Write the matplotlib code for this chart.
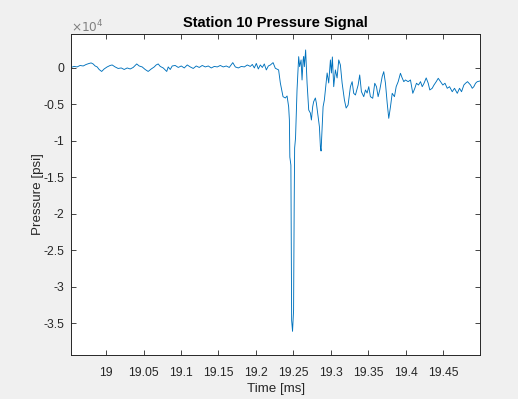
import matplotlib
matplotlib.use("Agg")
import matplotlib.pyplot as plt
from matplotlib.ticker import FuncFormatter, MultipleLocator

plt.rcParams["font.family"] = ["Liberation Sans", "DejaVu Sans"]

# station 10 gauge trace, time in ms, pressure in psi
time_ms = [
    18.9532, 18.9572, 18.9612, 18.9652, 18.9693, 18.9733, 18.9773, 18.9799, 18.9826, 18.9853,
    18.9880, 18.9906, 18.9940, 18.9973, 19.0013, 19.0053, 19.0080, 19.0120, 19.0160, 19.0201,
    19.0241, 19.0281, 19.0321, 19.0361, 19.0408, 19.0441, 19.0481, 19.0521, 19.0561, 19.0602,
    19.0642, 19.0668, 19.0695, 19.0722, 19.0762, 19.0809, 19.0829, 19.0856, 19.0882, 19.0922,
    19.0963, 19.1003, 19.1043, 19.1083, 19.1123, 19.1163, 19.1203, 19.1243, 19.1283, 19.1324,
    19.1364, 19.1404, 19.1444, 19.1484, 19.1524, 19.1564, 19.1604, 19.1644, 19.1691, 19.1725,
    19.1765, 19.1805, 19.1845, 19.1885, 19.1925, 19.1952, 19.1979, 19.2005, 19.2032, 19.2059,
    19.2086, 19.2112, 19.2139, 19.2166, 19.2193, 19.2229, 19.2259, 19.2303, 19.2326, 19.2362,
    19.2393, 19.2416, 19.2437, 19.2447, 19.2453, 19.2467, 19.2477, 19.2489, 19.2503, 19.2511,
    19.2517, 19.2529, 19.2549, 19.2571, 19.2584, 19.2603, 19.2616, 19.2630, 19.2638, 19.2647,
    19.2664, 19.2683, 19.2705, 19.2727, 19.2741, 19.2758, 19.2771, 19.2794, 19.2807, 19.2830,
    19.2848, 19.2861, 19.2870, 19.2884, 19.2897, 19.2914, 19.2928, 19.2951, 19.2972, 19.2995,
    19.3008, 19.3021, 19.3039, 19.3061, 19.3084, 19.3106, 19.3128, 19.3151, 19.3182, 19.3205,
    19.3231, 19.3262, 19.3285, 19.3306, 19.3329, 19.3365, 19.3386, 19.3409, 19.3440, 19.3463,
    19.3485, 19.3507, 19.3529, 19.3560, 19.3587, 19.3610, 19.3632, 19.3654, 19.3686, 19.3707,
    19.3730, 19.3753, 19.3774, 19.3797, 19.3820, 19.3850, 19.3873, 19.3900, 19.3930, 19.3953,
    19.3975, 19.3997, 19.4033, 19.4064, 19.4095, 19.4122, 19.4144, 19.4171, 19.4198, 19.4221,
    19.4245, 19.4274, 19.4301, 19.4322, 19.4354, 19.4378, 19.4408, 19.4435, 19.4465, 19.4496,
    19.4525, 19.4555, 19.4586, 19.4622, 19.4652, 19.4689, 19.4719, 19.4746, 19.4777, 19.4799,
    19.4826, 19.4846, 19.4866, 19.4889, 19.4910, 19.4933, 19.4956, 19.4993,
]
pressure_psi = [
    70, 210, 140, 340, 270, 480, 620, 690, 550, 270,
    140, -210, -480, -140, 140, 340, 410, 140, -70, 0,
    -210, 0, -140, 70, 550, 270, 140, -210, -480, -140,
    140, 410, 550, 210, 0, -480, 140, -210, 270, 340,
    70, 270, 0, 410, 140, -70, 270, 70, 340, 140,
    270, 0, 210, 140, 340, 140, 270, 70, 730, 140,
    0, 210, 140, 410, 210, 480, 0, 620, -140, 410,
    70, 550, -270, 270, 410, 730, -40, -270, -2060, -3940,
    -4120, -3850, -5320, -7140, -12230, -13330, -34620, -36140, -33250, -18820,
    -10990, -9620, -3020, 1550, 180, 1100, -1650, 1100, 1550, 180,
    2470, -2060, -5770, -6180, -7140, -5320, -4630, -4120, -4810, -6690,
    -8070, -10810, -11400, -8070, -5320, -4400, -3020, -690, -2060, 1100,
    -690, 1510, -2570, -270, -1370, 1100, 410, -2060, -4400, -5500,
    -5080, -2570, -1880, -3480, -3710, -2340, -960, -3260, -3940, -3020,
    -3440, -2570, -3940, -4160, -2100, -2570, -3940, -3020, -1200, -510,
    -2100, -4810, -6910, -5320, -3480, -3940, -2570, -1880, -730, -1370,
    -1880, -1650, -1880, -1650, -3480, -2790, -2100, -2340, -1880, -2570,
    -2100, -1370, -2100, -3020, -2790, -2340, -1880, -1420, -1880, -2340,
    -2100, -2790, -2570, -3260, -2790, -3480, -2790, -3260, -2340, -2100,
    -1880, -2100, -2340, -2790, -2570, -2100, -1880, -1790,
]

x_ticks = [19.0, 19.05, 19.1, 19.15, 19.2, 19.25, 19.3, 19.35, 19.4, 19.45]
x_limits = (18.953, 19.4995)
y_limits = (-39400, 4670)

axis_color = "#262626"

fig = plt.figure(figsize=(5.18, 3.99), dpi=100, facecolor="#f0f0f0")
ax = fig.add_axes([0.137, 0.110, 0.790, 0.805])
ax.set_facecolor("white")

ax.plot(time_ms, pressure_psi, color="#0072bd", linewidth=0.65)

ax.set_xlim(*x_limits)
ax.set_ylim(*y_limits)
ax.set_xticks(x_ticks)
ax.set_xticklabels([f"{t:g}" for t in x_ticks])
ax.yaxis.set_major_locator(MultipleLocator(5000))
ax.yaxis.set_major_formatter(FuncFormatter(lambda v, _: f"{v / 1e4:g}"))

ax.tick_params(direction="in", length=3.5, width=0.6, colors=axis_color,
               labelsize=8.7, top=True, right=True)
ax.tick_params(axis="x", pad=8.5)
ax.tick_params(axis="y", pad=5)
for side in ax.spines.values():
    side.set_color(axis_color)
    side.set_linewidth(0.7)

ax.set_xlabel("Time [ms]", fontsize=9.6, color=axis_color, labelpad=3)
ax.set_ylabel("Pressure [psi]", fontsize=9.6, color=axis_color, labelpad=-1)
ax.set_title("Station 10 Pressure Signal", fontsize=10.5, fontweight="bold",
             color="black", pad=5)
ax.text(0.0, 1.006, r"$\times10^{4}$", transform=ax.transAxes, fontsize=8.7,
        color="#808080", ha="left", va="baseline")

fig.savefig("out.png", dpi=100, facecolor=fig.get_facecolor())
